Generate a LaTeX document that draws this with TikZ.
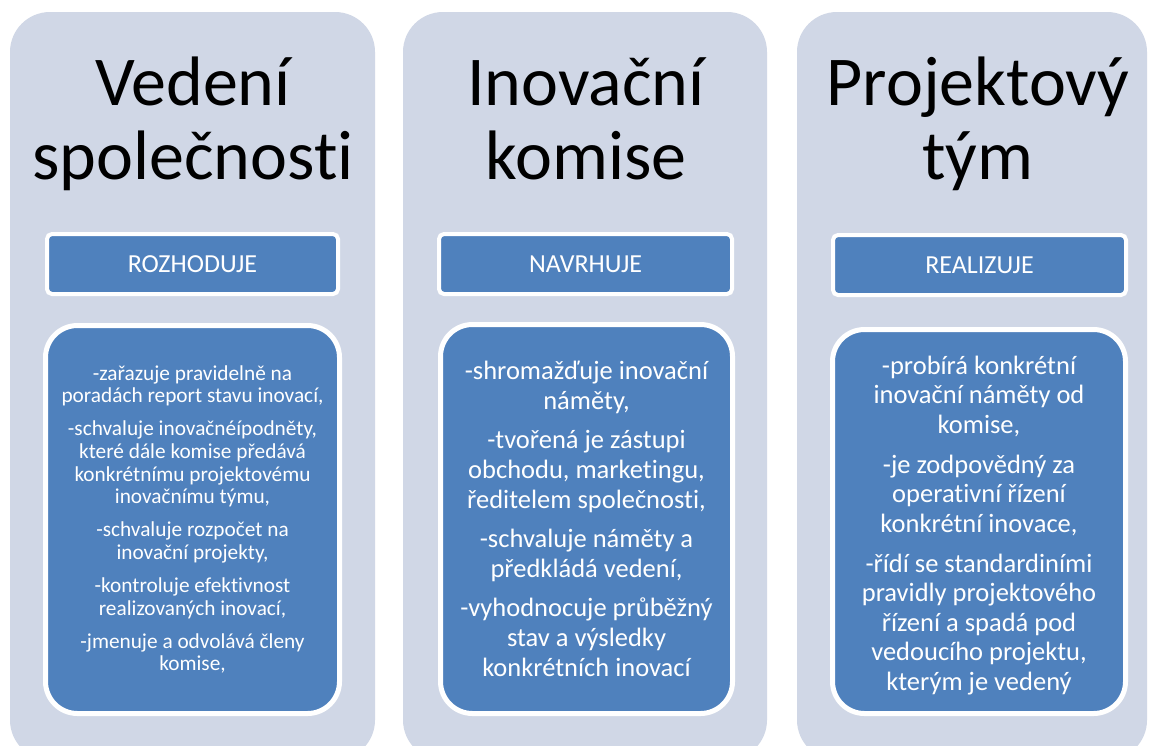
\documentclass[tikz,border=0pt]{standalone}
\usepackage{fontspec}
\setmainfont{Carlito}[Ligatures=NoCommon]
\definecolor{bgc}{RGB}{208,215,230}
\definecolor{boxblue}{RGB}{79,129,189}
\tikzset{
  colbg/.style={fill=bgc, draw=none, rounded corners=40pt, inner sep=0pt},
  titletext/.style={font=\fontsize{70}{74}\selectfont, align=center, inner sep=0pt, text=black},
  labelbox/.style={fill=boxblue, draw=white, line width=4pt, rounded corners=5pt, text=white,
    font=\fontsize{26}{30}\selectfont, inner sep=0pt, text height=17pt, text depth=0pt},
  contentbox/.style={fill=boxblue, draw=white, line width=5pt, rounded corners=32pt, text=white,
    align=center, inner sep=0pt},
  bodysmall/.style={font=\fontsize{21.3}{22.6}\selectfont},
  bodylarge/.style={font=\fontsize{26.5}{30.2}\selectfont},
}
\begin{document}
\begin{tikzpicture}[x=1pt, y=-1pt]
\useasboundingbox (0,0) rectangle (1150,745);
\clip (0,0) rectangle (1150,745);
\fill[white] (0,0) rectangle (1150,745);
% columns
\node[colbg, minimum width=365pt, minimum height=748pt] (c1) at (192.5,386) {};
\node[colbg, minimum width=364pt, minimum height=748pt] (c2) at (585,386) {};
\node[colbg, minimum width=350pt, minimum height=748pt] (c3) at (972,386) {};
% titles (base anchor = last line)
\node[titletext, anchor=base] (t1) at (193,179) {Vedení\\společnosti};
\node[titletext, anchor=base] (t2) at (586,179) {Inovační\\komise};
\node[titletext, anchor=base] (t3) at (978,179) {Projektový\\tým};
% labels
\node[labelbox, minimum width=291pt, minimum height=60pt] (l1) at (192.5,264) {ROZHODUJE};
\node[labelbox, minimum width=293pt, minimum height=60pt] (l2) at (585.5,264) {NAVRHUJE};
\node[labelbox, minimum width=293pt, minimum height=60pt] (l3) at (979.5,265) {REALIZUJE};
% content
\node[contentbox, bodysmall, minimum width=294pt, minimum height=388pt] (b1) at (192.5,519.5)
 {-zařazuje pravidelně na\\poradách report stavu inovací,\\[10.5pt]
  -schvaluje inovačnéípodněty,\\které dále komise předává\\konkrétnímu projektovému\\inovačnímu týmu,\\[10.5pt]
  -schvaluje rozpočet na\\inovační projekty,\\[10.5pt]
  -kontroluje efektivnost\\realizovaných inovací,\\[10.5pt]
  -jmenuje a odvolává členy\\komise,};
\node[contentbox, bodylarge, minimum width=292pt, minimum height=389pt] (b2) at (586.5,519)
 {-shromažďuje inovační\\náměty,\\[8.5pt]
  -tvořená je zástupi\\obchodu, marketingu,\\ředitelem společnosti,\\[8.5pt]
  -schvaluje náměty a\\předkládá vedení,\\[8.5pt]
  -vyhodnocuje průběžný\\stav a výsledky\\konkrétních inovací};
\node[contentbox, bodylarge, font=\fontsize{26.5}{29.5}\selectfont, minimum width=293pt, minimum height=384pt] (b3) at (979,521.5)
 {\rule{0pt}{26pt}-probírá konkrétní\\inovační náměty od\\komise,\\[10.5pt]
  -je zodpovědný za\\operativní řízení\\konkrétní inovace,\\[10.5pt]
  -řídí se standardiními\\pravidly projektového\\řízení a spadá pod\\vedoucího projektu,\\kterým je vedený};
\end{tikzpicture}
\end{document}
